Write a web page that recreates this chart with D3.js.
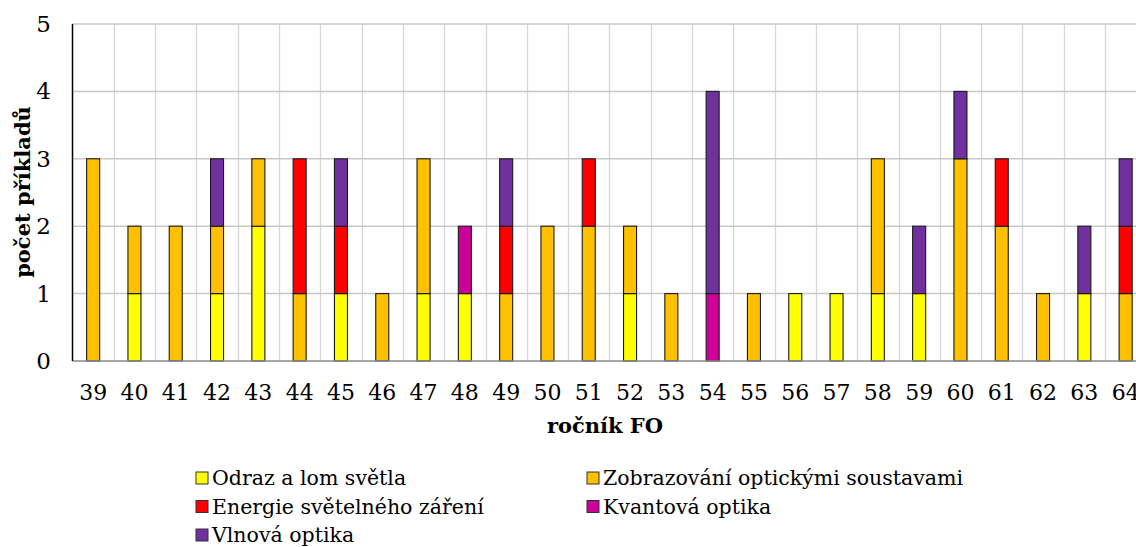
<!DOCTYPE html>
<html>
<head>
<meta charset="utf-8">
<script src="https://cdn.jsdelivr.net/npm/d3@7"></script>
<style>
  html, body { margin: 0; padding: 0; background: #fff; }
  svg { display: block; }
  text { font-family: "DejaVu Serif", serif; fill: #000; }
</style>
</head>
<body>
<svg id="chart" width="1136" height="547"></svg>
<script>
// ročníky FO (categories)
const years = ["39","40","41","42","43","44","45","46","47","48","49","50","51","52","53","54","55","56","57","58","59","60","61","62","63","64"];

// series values, one per year (stacked bottom -> top)
const odraz      = [0,1,0,1,2,0,1,0,1,1,0,0,0,1,0,0,0,1,1,1,1,0,0,0,1,0];
const zobrazovani= [3,1,2,1,1,1,0,1,2,0,1,2,2,1,1,0,1,0,0,2,0,3,2,1,0,1];
const energie    = [0,0,0,0,0,2,1,0,0,0,1,0,1,0,0,0,0,0,0,0,0,0,1,0,0,1];
const kvantova   = [0,0,0,0,0,0,0,0,0,1,0,0,0,0,0,1,0,0,0,0,0,0,0,0,0,0];
const vlnova     = [0,0,0,1,0,0,1,0,0,0,1,0,0,0,0,3,0,0,0,0,1,1,0,0,1,1];

const seriesNames  = ["Odraz a lom světla","Zobrazování optickými soustavami","Energie světelného záření","Kvantová optika","Vlnová optika"];
const seriesColors = ["#FFFF00","#FFC000","#FF0000","#CC0099","#7030A0"];
const yTicks = [0,1,2,3,4,5];

const keys = ["odraz","zobrazovani","energie","kvantova","vlnova"];
const table = years.map((yr, i) => ({
  year: yr,
  odraz: odraz[i], zobrazovani: zobrazovani[i], energie: energie[i],
  kvantova: kvantova[i], vlnova: vlnova[i]
}));

const svg = d3.select("#chart");
const plotL = 72.5, plotT = 24, plotB = 361;
const band = 41.3;
const plotR = plotL + band * years.length;   // plot runs past the window edge

const x = d3.scaleBand().domain(years).range([plotL, plotR]).padding(0);
const y = d3.scaleLinear().domain([0, 5]).range([plotB, plotT]);
const color = d3.scaleOrdinal().domain(keys).range(seriesColors);

// gridlines
svg.append("g")
  .selectAll("line").data(years.slice(1))
  .join("line")
  .attr("x1", d => Math.round(x(d)) + 0.5).attr("x2", d => Math.round(x(d)) + 0.5)
  .attr("y1", plotT).attr("y2", plotB)
  .attr("stroke", "#d6d6d6").attr("stroke-width", 1.3);

svg.append("g")
  .selectAll("line").data(yTicks.slice(1))
  .join("line")
  .attr("x1", plotL).attr("x2", plotR)
  .attr("y1", d => y(d)).attr("y2", d => y(d))
  .attr("stroke", "#c8c8c8").attr("stroke-width", 1.5);

// stacked bars
const stack = d3.stack().keys(keys)(table);
const bw = x.bandwidth() * 0.315;

svg.append("g")
  .selectAll("g").data(stack)
  .join("g")
  .attr("fill", d => color(d.key))
  .selectAll("rect")
  .data(d => d.filter(s => s[1] > s[0]))
  .join("rect")
  .attr("x", d => x(d.data.year) + (x.bandwidth() - bw) / 2)
  .attr("y", d => y(d[1]))
  .attr("width", bw)
  .attr("height", d => y(d[0]) - y(d[1]))
  .attr("stroke", "#1a1a1a").attr("stroke-width", 1.1);

// axes
svg.append("line")
  .attr("x1", plotL).attr("x2", plotR).attr("y1", plotB).attr("y2", plotB)
  .attr("stroke", "#8a8a8a").attr("stroke-width", 1.5);
svg.append("line")
  .attr("x1", plotL).attr("x2", plotL).attr("y1", plotT).attr("y2", plotB)
  .attr("stroke", "#000").attr("stroke-width", 1.5);

// y tick labels
svg.append("g")
  .selectAll("text").data(yTicks)
  .join("text")
  .attr("x", 51).attr("y", d => y(d) + 8)
  .attr("text-anchor", "end")
  .attr("font-size", "23px")
  .text(d => d);

// x tick labels
svg.append("g")
  .selectAll("text").data(years)
  .join("text")
  .attr("x", d => x(d) + x.bandwidth() / 2)
  .attr("y", 400)
  .attr("text-anchor", "middle")
  .attr("font-size", "22px")
  .text(d => d);

// axis titles
svg.append("text")
  .attr("x", 605).attr("y", 433)
  .attr("text-anchor", "middle")
  .attr("font-size", "21px").attr("font-weight", "bold")
  .text("ročník FO");

svg.append("text")
  .attr("transform", `translate(30,192) rotate(-90)`)
  .attr("text-anchor", "middle")
  .attr("font-size", "21px").attr("font-weight", "bold")
  .text("počet příkladů");

// legend (two columns, row-major)
const legX = [196, 587], legY0 = 478, legDy = 28.5;
const leg = svg.append("g")
  .selectAll("g").data(seriesNames)
  .join("g")
  .attr("transform", (d, i) => `translate(${legX[i % 2]},${legY0 + Math.floor(i / 2) * legDy})`);

leg.append("rect")
  .attr("x", 0).attr("y", -6).attr("width", 12).attr("height", 12)
  .attr("fill", (d, i) => seriesColors[i])
  .attr("stroke", "#333").attr("stroke-width", 1);

leg.append("text")
  .attr("x", 16).attr("y", 7)
  .attr("font-size", "20.5px")
  .text(d => d);
</script>
</body>
</html>
